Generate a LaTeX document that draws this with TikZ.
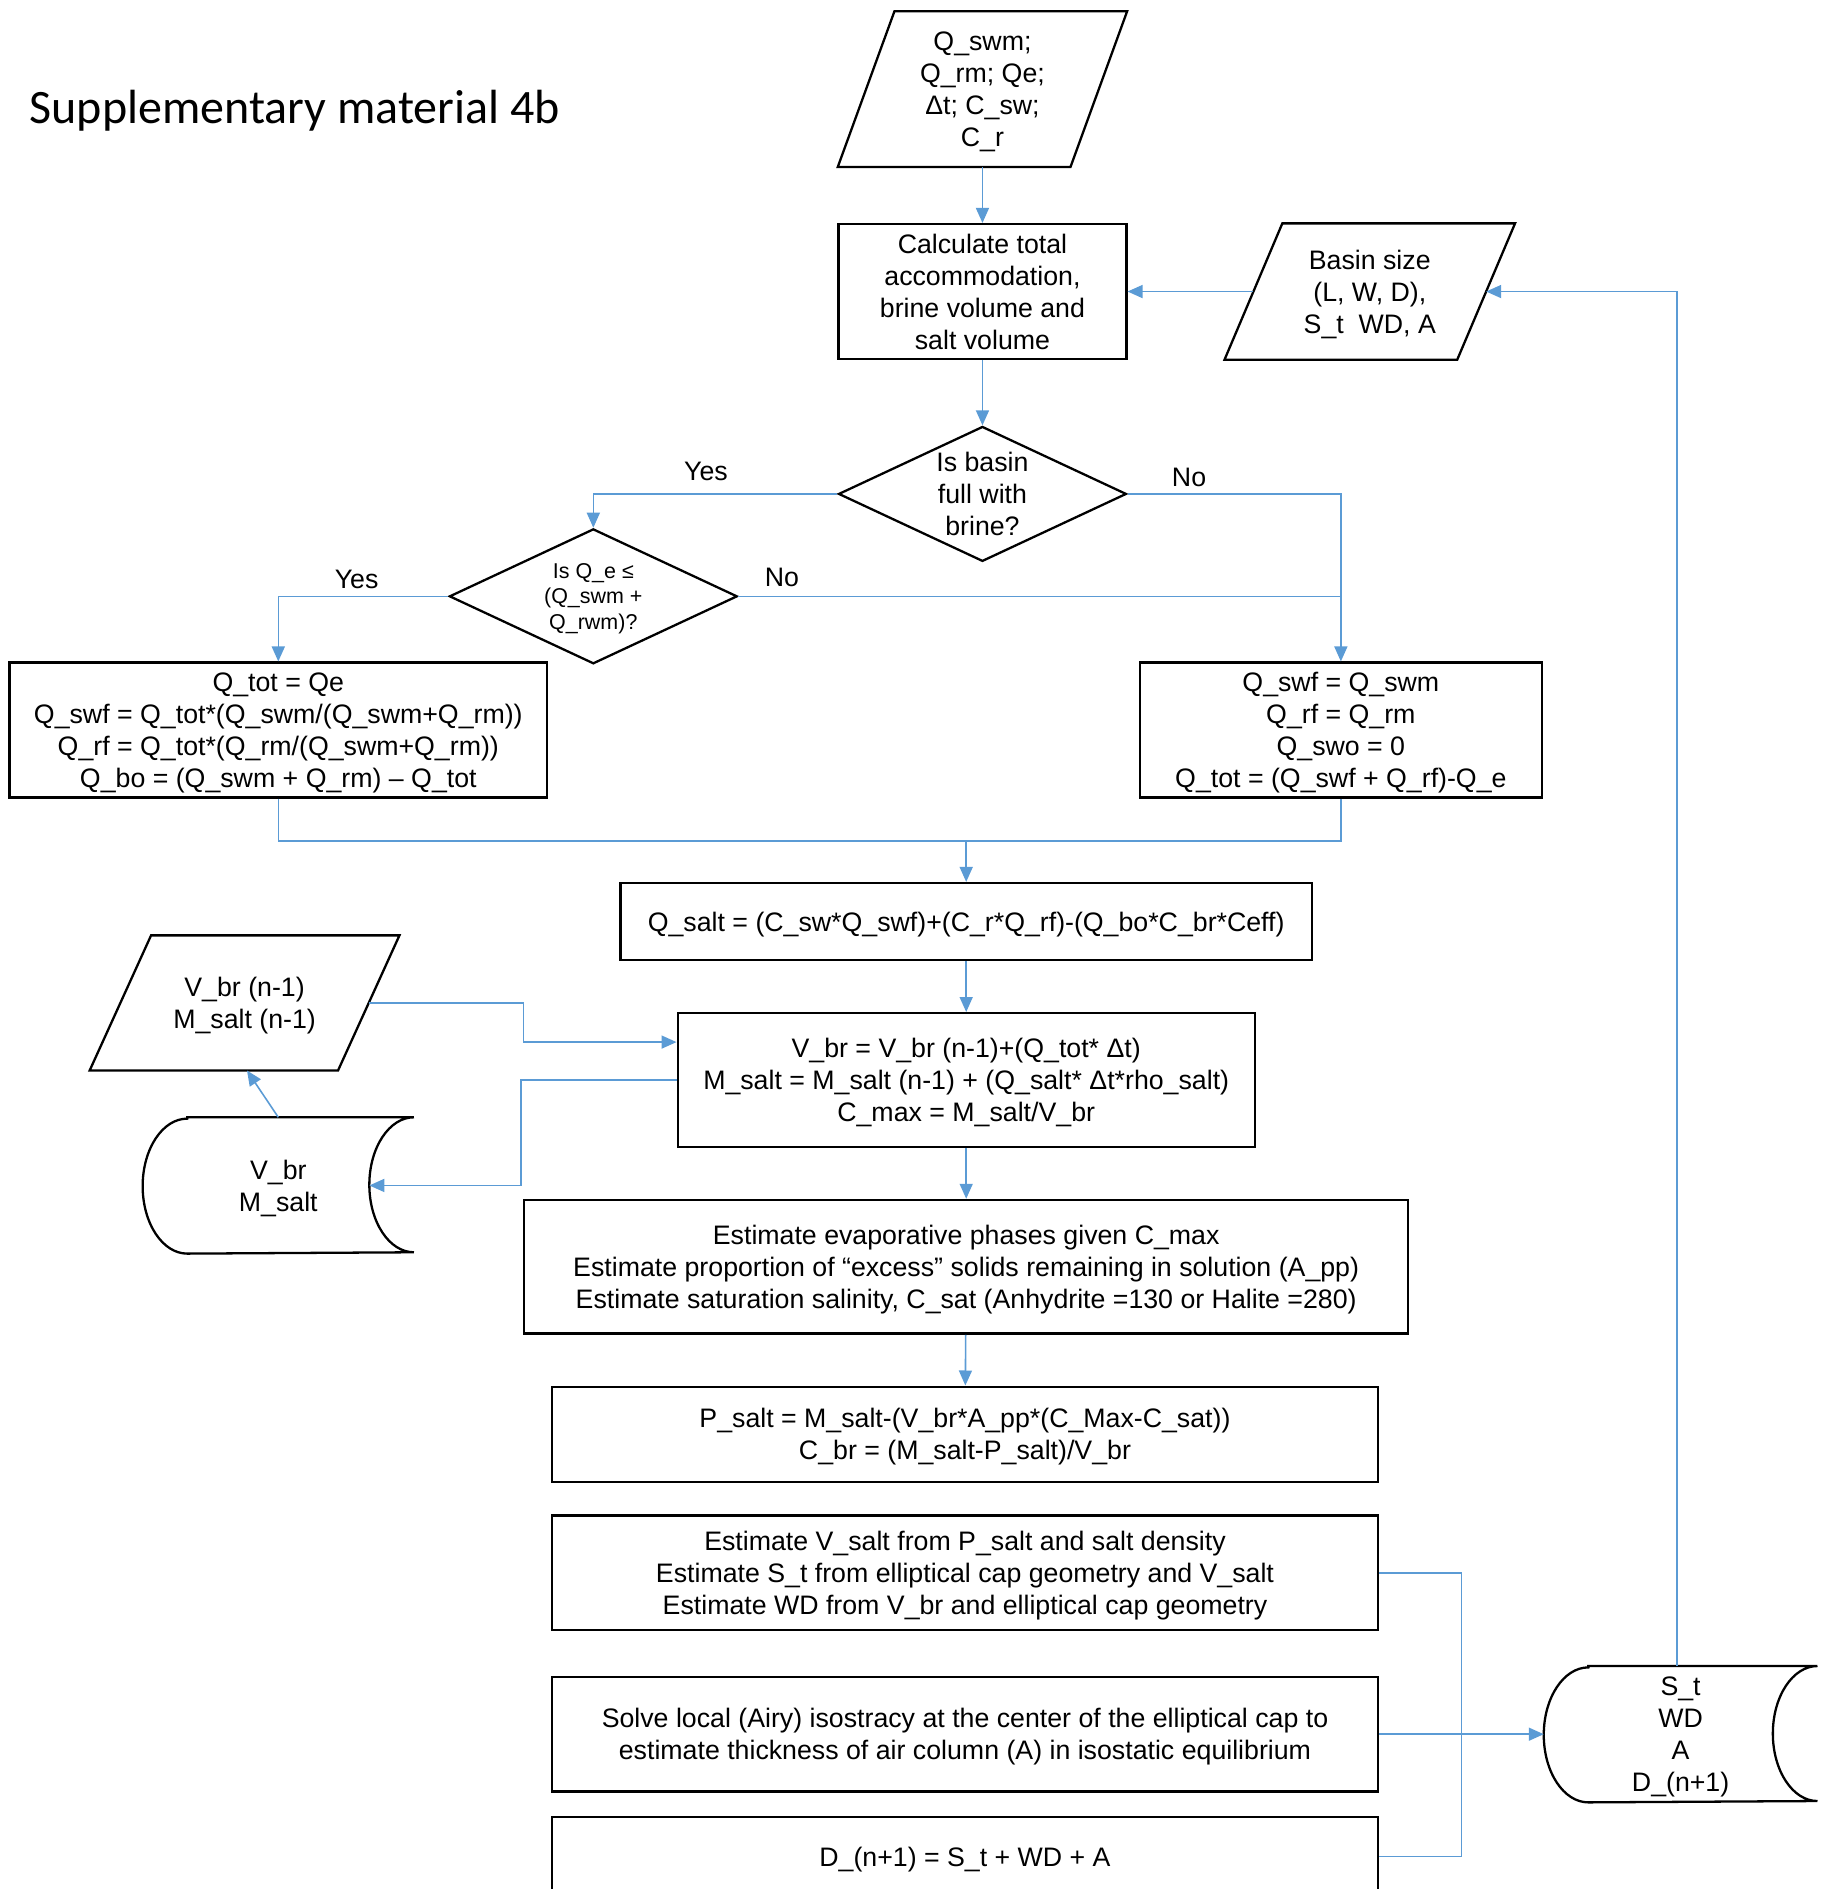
\documentclass[tikz,border=0pt]{standalone}
\usepackage{fontspec}
\setmainfont{Liberation Sans}
\newfontfamily\titlefont{Carlito}
\usetikzlibrary{shapes.geometric,arrows.meta,calc}
\definecolor{linkblue}{HTML}{5B9BD5}
\newcommand{\unitpx}{0.012044cm}

\begin{document}
\begin{tikzpicture}[x=\unitpx, y=-\unitpx,
    every node/.style={font=\fontsize{7.6}{9.1}\selectfont, align=center, inner sep=0pt},
    proc/.style n args={2}{draw, line width=0.65pt, text depth=-1pt, minimum width=#1*\unitpx, minimum height=#2*\unitpx},
    io/.style n args={2}{text depth=-1pt, minimum width=#1*\unitpx, minimum height=#2*\unitpx},
    decision/.style={draw, line width=0.65pt, diamond, aspect=2.13, minimum width=239*\unitpx, minimum height=112*\unitpx},
    stored/.style n args={2}{text depth=-1pt, minimum width=#1*\unitpx, minimum height=#2*\unitpx},
    wire/.style={draw=linkblue, line width=0.45pt},
    flow/.style={wire, -{Triangle[length=0.15cm, width=0.13cm]}}]

 \useasboundingbox (0,0) rectangle (1517,1568);

 \node[font=\titlefont\fontsize{13.65}{16}\selectfont, anchor=base west] (title) at (24,102.5) {Supplementary material 4b};

 % inputs and first decisions
 \node[io={192}{128}] (in) at (815.5,74) {Q\_swm;\\Q\_rm; Qe;\\Δt; C\_sw;\\C\_r};
 \node[proc={239}{112}] (calc) at (815.5,242) {Calculate total\\accommodation,\\brine volume and\\salt volume};
 \node[io={192}{112}] (basin) at (1137,242) {Basin size\\(L, W, D),\\S\_t\ \ WD, A};
 \node[decision] (full) at (815.5,410) {Is basin\\full with\\brine?};
 \node[decision, text depth=-0.6pt, font=\fontsize{6.1}{7.3}\selectfont] (qe) at (492.5,495) {Is Q\_e ≤\\(Q\_swm +\\Q\_rwm)?};

 \node (yesA) at (586,391) {Yes};
 \node (noA) at (987,396) {No};
 \node (yesB) at (296,481) {Yes};
 \node (noB) at (649,479) {No};

 \node[proc={446}{112}] (yesbox) at (231,606) {Q\_tot = Qe\\Q\_swf = Q\_tot*(Q\_swm/(Q\_swm+Q\_rm))\\Q\_rf = Q\_tot*(Q\_rm/(Q\_swm+Q\_rm))\\Q\_bo = (Q\_swm + Q\_rm) – Q\_tot};
 \node[proc={334}{112}] (nobox) at (1113,606) {Q\_swf = Q\_swm\\Q\_rf = Q\_rm\\Q\_swo = 0\\Q\_tot = (Q\_swf + Q\_rf)-Q\_e};

 % salt and brine
 \node[proc={574}{64}] (qsalt) at (802,765) {Q\_salt = (C\_sw*Q\_swf)+(C\_r*Q\_rf)-(Q\_bo*C\_br*Ceff)};
 \node[io={205}{111}] (vprev) at (203,832.5) {V\_br (n-1)\\M\_salt (n-1)};
 \node[proc={479}{111}] (vbrbox) at (802,896.5) {V\_br = V\_br (n-1)+(Q\_tot* Δt)\\M\_salt = M\_salt (n-1) + (Q\_salt* Δt*rho\_salt)\\C\_max = M\_salt/V\_br};
 \node[stored={224}{112}] (vbr) at (231,984) {V\_br\\M\_salt};
 \node[proc={734}{111}] (evap) at (802,1051.5) {Estimate evaporative phases given C\_max\\Estimate proportion of “excess” solids remaining in solution (A\_pp)\\Estimate saturation salinity, C\_sat (Anhydrite =130 or Halite =280)};
 \node[proc={686}{79}] (psalt) at (801,1190.5) {P\_salt = M\_salt-(V\_br*A\_pp*(C\_Max-C\_sat))\\C\_br = (M\_salt-P\_salt)/V\_br};
 \node[proc={686}{95}] (vsalt) at (801,1305.5) {Estimate V\_salt from P\_salt and salt density\\Estimate S\_t from elliptical cap geometry and V\_salt\\Estimate WD from V\_br and elliptical cap geometry};
 \node[proc={686}{95}] (airy) at (801,1439.5) {Solve local (Airy) isostracy at the center of the elliptical cap to\\estimate thickness of air column (A) in isostatic equilibrium};
 \node[proc={686}{66}] (dnext) at (801,1541) {D\_(n+1) = S\_t + WD + A};
 \node[stored={226}{112}] (store) at (1395,1439.5) {S\_t\\WD\\A\\D\_(n+1)};

 % parallelogram outlines
 \foreach \s/\d in {in/47, basin/48, vprev/51} {
   \draw[line width=0.65pt] ($(\s.north west)+(0.5*\d,0)$) -- ($(\s.north east)+(0.5*\d,0)$)
     -- ($(\s.south east)-(0.5*\d,0)$) -- ($(\s.south west)-(0.5*\d,0)$) -- cycle;
 }

 % stored data outlines
 \foreach \s in {vbr,store} {
   \draw[line width=0.65pt] ([xshift=0.4456cm]\s.north west) -- (\s.north east)
     arc[start angle=90, end angle=270, x radius=0.4456cm, y radius=0.6745cm]
     -- ([xshift=0.4456cm]\s.south west)
     arc[start angle=270, end angle=90, x radius=0.4456cm, y radius=0.6745cm] -- cycle;
 }

 % lines
 \draw[flow] (in) -- (calc);
 \draw[flow] (calc) -- (full);
 \draw[flow] (basin.west) -- (calc.east);
 \draw[flow] ([xshift=-0.036cm]store.north) |- (basin.east);
 \draw[flow] (full.west) -| (qe.north);
 \draw[flow] (full.east) -| (nobox.north);
 \draw[flow] (qe.west) -| (yesbox.north);
 \draw[wire] (qe.east) -- (qe.east -| nobox.north);

 \coordinate (merge) at (802,698);
 \draw[wire] (yesbox.south) |- (merge) -| (nobox.south);
 \draw[flow] (merge) -- (qsalt.north);
 \draw[flow] (qsalt) -- (vbrbox);
 \draw[flow] (vbrbox) -- (evap);
 \draw[flow] (evap) -- (psalt);

 \coordinate (brin) at ($(vbrbox.west)+(0,-31.5)$);
 \coordinate (vbrin) at ($(vbr.east)+(-37,0)$);
 \coordinate (vpin) at ($(vprev.south)+(2,0)$);
 \draw[flow] (vprev.east) -- ++(128.5,0) |- (brin);
 \draw[flow] (vbrbox.west) -- ++(-129,0) |- (vbrin);
 \draw[flow] (vbr.north) -- (vpin);

 \draw[wire] (vsalt.east) -| (1213,1439.5) |- (dnext.east);
 \draw[flow] (airy) -- (store);

\end{tikzpicture}
\end{document}
